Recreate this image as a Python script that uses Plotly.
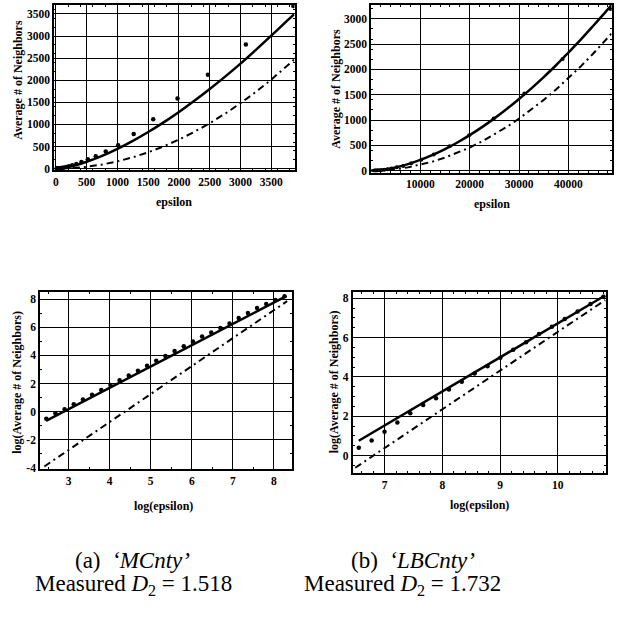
import numpy as np
import plotly.graph_objects as go

# ---------------- data ----------------
# (a) MCnty  -- log plot points
mc_log_eps = [2.457, 2.680, 2.903, 3.126, 3.349, 3.572, 3.796, 4.019, 4.242, 4.465,
              4.688, 4.911, 5.134, 5.357, 5.581, 5.804, 6.027, 6.250, 6.473, 6.696,
              6.919, 7.142, 7.366, 7.589, 7.812, 8.035, 8.258]
mc_log_nbrs = [-0.50, -0.12, 0.18, 0.52, 0.86, 1.20, 1.55, 1.90, 2.24, 2.58,
               2.92, 3.27, 3.62, 3.96, 4.31, 4.66, 5.00, 5.35, 5.63, 5.96,
               6.27, 6.66, 7.02, 7.37, 7.66, 7.94, 8.21]
mc_fit_log_eps = [2.45, 8.30]
mc_fit_log_nbrs = [-0.66, 8.22]
mc_ref_log_eps = [2.41, 8.32]
mc_ref_log_nbrs = [-3.90, 7.86]
# (a) linear-scale curves
mc_eps_grid = [0, 250, 500, 750, 1000, 1250, 1500, 1750, 2000, 2250, 2500,
               2750, 3000, 3250, 3500, 3750, 3870]
mc_fit_nbrs = [0, 55, 156, 289, 448, 629, 829, 1047, 1283, 1535, 1802,
               2081, 2375, 2686, 3007, 3335, 3490]
mc_ref_nbrs = [0, 10, 41, 92, 164, 257, 370, 503, 658, 832, 1028,
               1243, 1480, 1736, 2014, 2312, 2462]

# (b) LBCnty -- log plot points
lb_log_eps = [6.551, 6.774, 6.997, 7.220, 7.443, 7.667, 7.890, 8.113, 8.336, 8.559,
              8.782, 9.005, 9.228, 9.451, 9.675, 9.898, 10.121, 10.344, 10.567, 10.790]
lb_log_nbrs = [0.39, 0.77, 1.21, 1.68, 2.15, 2.57, 2.91, 3.36, 3.75, 4.17,
               4.54, 4.97, 5.38, 5.76, 6.18, 6.55, 6.94, 7.33, 7.70, 8.07]
lb_fit_log_eps = [6.55, 10.82]
lb_fit_log_nbrs = [0.75, 8.14]
lb_ref_log_eps = [6.49, 10.82]
lb_ref_log_nbrs = [-0.62, 7.90]
# (b) linear-scale curves
lb_eps_grid = [0, 2500, 5000, 7500, 10000, 12500, 15000, 17500, 20000, 22500, 25000,
               27500, 30000, 32500, 35000, 37500, 40000, 42500, 45000, 47500, 48700]
lb_fit_nbrs = [0, 19, 64, 128, 211, 311, 426, 556, 702, 860, 1033,
               1218, 1416, 1627, 1850, 2083, 2333, 2589, 2859, 3134, 3270]
lb_ref_nbrs = [0, 7, 29, 64, 114, 178, 257, 349, 456, 578, 713,
               863, 1027, 1205, 1398, 1604, 1826, 2061, 2310, 2574, 2706]

# tick labels
mc_lin_ticks = [0, 500, 1000, 1500, 2000, 2500, 3000, 3500]
lb_lin_xticks = [10000, 20000, 30000, 40000]
lb_lin_yticks = [0, 500, 1000, 1500, 2000, 2500, 3000]
mc_log_xticks = [3, 4, 5, 6, 7, 8]
mc_log_yticks = [-4, -2, 0, 2, 4, 6, 8]
lb_log_xticks = [7, 8, 9, 10]
lb_log_yticks = [0, 2, 4, 6, 8]

captions_a = ["(a)  <i>‘MCnty’</i>", "Measured <i>D</i><sub>2</sub> = 1.518"]
captions_b = ["(b)  <i>‘LBCnty’</i>", "Measured <i>D</i><sub>2</sub> = 1.732"]

# ---------------- figure ----------------
W = 617
FONT = "Liberation Serif"
tickfont = dict(family=FONT, size=11.5, color="black", weight="bold")
DASH = "7px,4px,2px,4px"

fig = go.Figure()


def add_set(xa, ya, dots_x, dots_y, fx, fy, rx, ry, msize=4.5):
    fig.add_trace(go.Scatter(x=rx, y=ry, mode="lines", xaxis=xa, yaxis=ya,
                             line=dict(color="black", width=2, dash=DASH),
                             showlegend=False, hoverinfo="skip"))
    fig.add_trace(go.Scatter(x=fx, y=fy, mode="lines", xaxis=xa, yaxis=ya,
                             line=dict(color="black", width=2.5, shape="spline"),
                             showlegend=False, hoverinfo="skip"))
    fig.add_trace(go.Scatter(x=dots_x, y=dots_y, mode="markers", xaxis=xa, yaxis=ya,
                             marker=dict(color="black", size=msize),
                             showlegend=False, hoverinfo="skip"))


# top-left: MCnty linear
add_set("x", "y", np.exp(mc_log_eps), np.exp(mc_log_nbrs),
        mc_eps_grid, mc_fit_nbrs, mc_eps_grid, mc_ref_nbrs)
# top-right: LBCnty linear
add_set("x2", "y2", np.exp(lb_log_eps), np.exp(lb_log_nbrs),
        lb_eps_grid, lb_fit_nbrs, lb_eps_grid, lb_ref_nbrs, msize=4)
# bottom-left: MCnty log
add_set("x3", "y3", mc_log_eps, mc_log_nbrs,
        mc_fit_log_eps, mc_fit_log_nbrs, mc_ref_log_eps, mc_ref_log_nbrs)
# bottom-right: LBCnty log
add_set("x4", "y4", lb_log_eps, lb_log_nbrs,
        lb_fit_log_eps, lb_fit_log_nbrs, lb_ref_log_eps, lb_ref_log_nbrs)


def ax(domain, rng, tickvals, anchor):
    return dict(domain=domain, range=rng, anchor=anchor, tickvals=tickvals,
                ticktext=[str(v) for v in tickvals],
                showline=True, linecolor="black", linewidth=2, mirror="ticks",
                ticks="inside", ticklen=4, tickwidth=1, tickcolor="black",
                showgrid=True, gridcolor="black", gridwidth=1.3, zeroline=False,
                tickfont=tickfont,
                minor=dict(ticks="inside", ticklen=2, tickcolor="black",
                           showgrid=False, nticks=5))


def px_x(p):
    return p / W


def px_y(p):
    return 1 - p / W


fig.update_layout(
    width=W, height=W,
    margin=dict(l=0, r=0, t=0, b=0),
    paper_bgcolor="white", plot_bgcolor="white",
    xaxis=ax([px_x(53.3), px_x(294)], [-28, 3878], mc_lin_ticks, "y"),
    yaxis=ax([px_y(171.7), px_y(4.7)], [-38, 3709], mc_lin_ticks, "x"),
    xaxis2=ax([px_x(371), px_x(611.7)], [80, 48775], lb_lin_xticks, "y2"),
    yaxis2=ax([px_y(174), px_y(5)], [-39, 3275], lb_lin_yticks, "x2"),
    xaxis3=ax([px_x(39.3), px_x(291.7)], [2.31, 8.445], mc_log_xticks, "y3"),
    yaxis3=ax([px_y(472.7), px_y(294.3)], [-4.07, 8.52], mc_log_yticks, "x3"),
    xaxis4=ax([px_x(352.3), px_x(606)], [6.446, 10.836], lb_log_xticks, "y4"),
    yaxis4=ax([px_y(476.7), px_y(294.3)], [-0.88, 8.32], lb_log_yticks, "x4"),
)

labfont = dict(family=FONT, size=12, color="black", weight="bold")
annots = [
    (17.5, 80, "Average # of Neighbors", -90),
    (173, 204, "epsilon", 0),
    (336, 89, "Average # of Neighbors", -90),
    (492, 206, "epsilon", 0),
    (16, 385, "log(Average # of Neighbors)", -90),
    (163, 510, "log(epsilon)", 0),
    (333, 385, "log(Average # of Neighbors)", -90),
    (479, 509, "log(epsilon)", 0),
]
for x, y, t, ang in annots:
    fig.add_annotation(x=px_x(x), y=px_y(y), xref="paper", yref="paper", text=t,
                       textangle=ang, showarrow=False, font=labfont,
                       xanchor="center", yanchor="middle")

capfont = dict(family=FONT, size=23, color="black")
for (x, y), t in zip([(132, 565), (133, 590)], captions_a):
    fig.add_annotation(x=px_x(x), y=px_y(y), xref="paper", yref="paper", text=t,
                       showarrow=False, font=capfont, xanchor="center", yanchor="middle")
for (x, y), t in zip([(413, 565), (402, 590)], captions_b):
    fig.add_annotation(x=px_x(x), y=px_y(y), xref="paper", yref="paper", text=t,
                       showarrow=False, font=capfont, xanchor="center", yanchor="middle")

fig.write_html("out.html", config={"displayModeBar": False},
               post_script="document.body.style.margin='0';document.body.style.padding='0';")
